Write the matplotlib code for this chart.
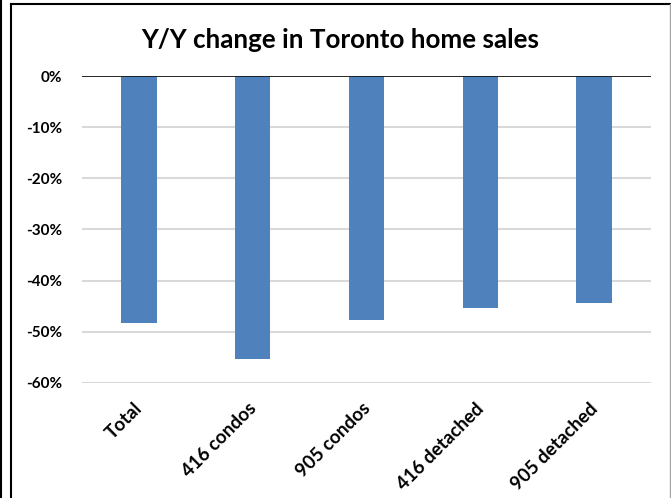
import matplotlib.pyplot as plt
from matplotlib.lines import Line2D
from matplotlib.ticker import FuncFormatter
from matplotlib.transforms import ScaledTranslation

categories = ['Total', '416 condos', '905 condos', '416 detached', '905 detached']
yy_change = [-48.2, -55.3, -47.7, -45.3, -44.4]
yticks = [0, -10, -20, -30, -40, -50, -60]

bar_color = '#4f81bd'
plt.rcParams['font.family'] = ['Lato', 'DejaVu Sans']

W, H = 671, 498
fig = plt.figure(figsize=(W/100, H/100), dpi=100)
ax = fig.add_axes([82/W, 1 - 383/H, (651-82)/W, (383-76)/H])

ax.bar(range(len(categories)), yy_change, width=0.31, color=bar_color, zorder=2)
ax.set_xlim(-0.5, len(categories) - 0.5)
ax.set_ylim(-60, 0)
ax.set_yticks(yticks)
ax.yaxis.set_major_formatter(FuncFormatter(lambda v, p: '%d%%' % v))
ax.grid(axis='y', color='#d9d9d9', linewidth=1.5, zorder=0)
ax.axhline(0, color='#1a1a1a', linewidth=1.3, zorder=3)
for s in ax.spines.values():
    s.set_visible(False)
ax.tick_params(length=0)
ax.tick_params(axis='y', pad=14, labelsize=11)
ax.set_xticks(range(len(categories)))
ax.set_xticklabels(categories, rotation=45, ha='right', rotation_mode='anchor',
                   fontsize=13.5, fontweight='bold')
for lab in ax.get_yticklabels():
    lab.set_fontweight('bold')
ax.tick_params(axis='x', pad=12)
shift = ScaledTranslation(-5/100, 0, fig.dpi_scale_trans)
for lab in ax.get_xticklabels():
    lab.set_transform(lab.get_transform() + shift)

fig.text(340/W, 1 - 40/H, 'Y/Y change in Toronto home sales', ha='center', va='center',
         fontsize=18.7, fontweight='bold')

# chart frame
def fline(x0, y0, x1, y1, color='black', lw=1.5):
    fig.add_artist(Line2D([x0/W, x1/W], [1 - y0/H, 1 - y1/H], transform=fig.transFigure,
                          color=color, linewidth=lw))

fline(10.5, 4.5, 671, 4.5)
fline(10.5, 4.5, 10.5, 498)
fline(669.5, 4.5, 669.5, 498, color='#a6a6a6', lw=1)
fline(1, 0, 1, 498)

fig.savefig('out.png', dpi=100)
